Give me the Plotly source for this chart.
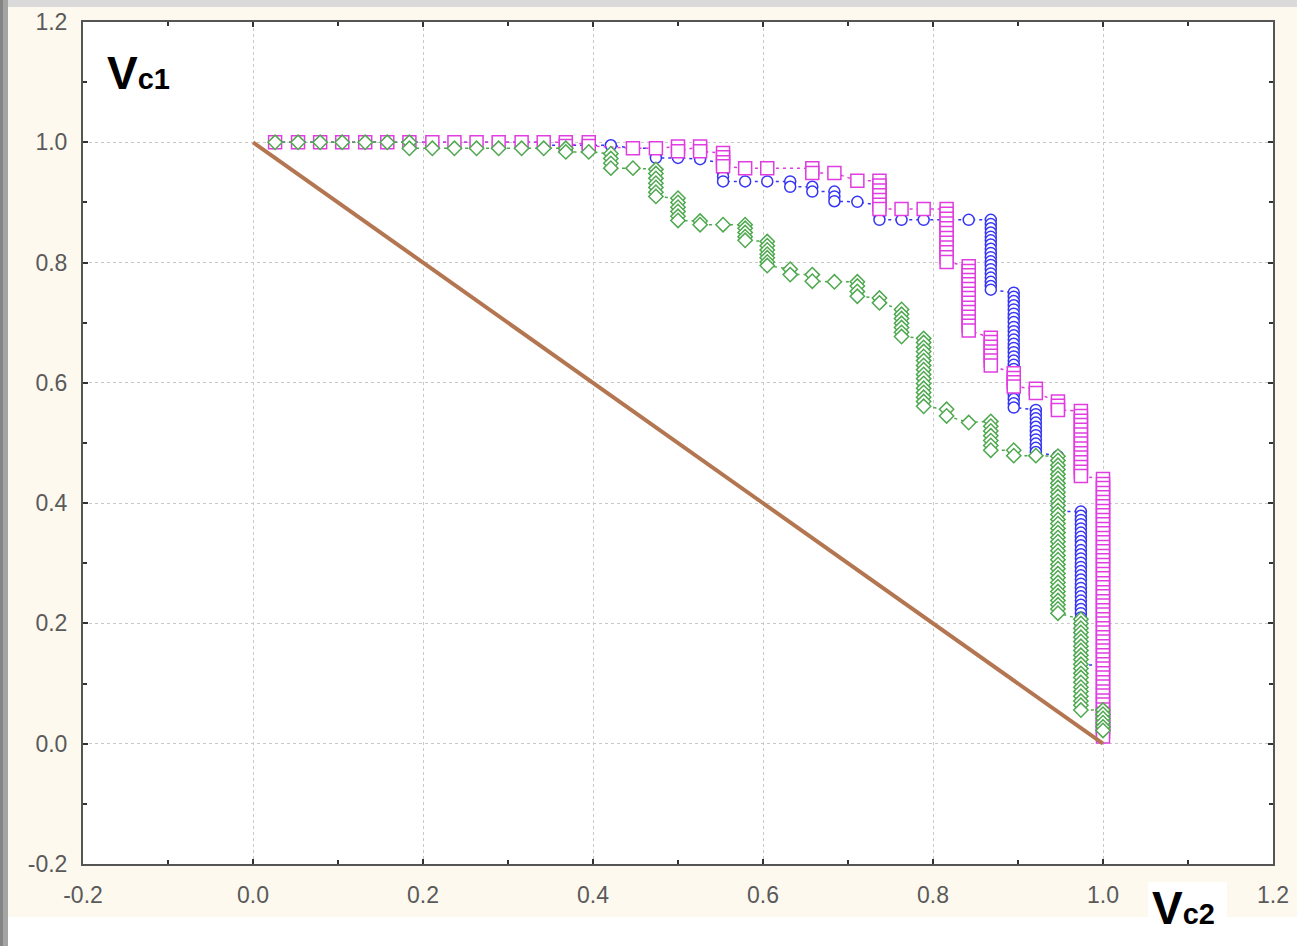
import plotly.graph_objects as go

# ---------------- data ----------------
# Each series: list of column x positions and, per column, the stacked y values
blue_col_x = [0.026, 0.053, 0.079, 0.105, 0.132, 0.158, 0.184, 0.211, 0.237, 0.263,
              0.289, 0.316, 0.342, 0.368, 0.395, 0.421, 0.447, 0.474, 0.5, 0.526,
              0.553, 0.579, 0.605, 0.632, 0.658, 0.684, 0.711, 0.737, 0.763, 0.789,
              0.816, 0.842, 0.868, 0.895, 0.921, 0.947, 0.974, 1.0]
blue_col_y = [
    [1.0], [1.0], [1.0], [1.0], [1.0], [1.0], [1.0], [1.0], [1.0], [1.0],
    [1.0], [1.0], [1.0, 0.995], [0.995], [0.995], [0.995], [0.99],
    [0.99, 0.982, 0.974], [0.974], [0.972],
    [0.965, 0.957, 0.95, 0.943, 0.935], [0.935], [0.935], [0.935, 0.926],
    [0.926, 0.918], [0.918, 0.91, 0.902], [0.901], [0.895, 0.887, 0.879, 0.871],
    [0.871], [0.871], [0.871], [0.871],
    [0.871, 0.864, 0.857, 0.85, 0.843, 0.837, 0.83, 0.823, 0.816, 0.809, 0.802,
     0.796, 0.789, 0.782, 0.775, 0.768, 0.761, 0.755],
    [0.75, 0.743, 0.736, 0.729, 0.722, 0.715, 0.708, 0.701, 0.693, 0.686, 0.679,
     0.672, 0.665, 0.658, 0.651, 0.644, 0.637, 0.63, 0.623, 0.616, 0.609, 0.602,
     0.595, 0.588, 0.58, 0.573, 0.566, 0.559],
    [0.555, 0.548, 0.541, 0.534, 0.527, 0.52, 0.513, 0.506, 0.499, 0.492, 0.485],
    [0.478, 0.471, 0.464, 0.457, 0.45, 0.443, 0.436, 0.429, 0.421, 0.414, 0.407,
     0.4, 0.393, 0.386],
    [0.386, 0.379, 0.372, 0.365, 0.358, 0.351, 0.344, 0.337, 0.33, 0.322, 0.315,
     0.308, 0.301, 0.294, 0.287, 0.28, 0.273, 0.266, 0.259, 0.252, 0.245, 0.238,
     0.231, 0.224, 0.217, 0.21, 0.203, 0.196, 0.188, 0.181, 0.174, 0.167, 0.16,
     0.153, 0.146, 0.139, 0.131],
    [0.131, 0.124, 0.117, 0.11, 0.102, 0.095, 0.088, 0.081, 0.073, 0.066, 0.059,
     0.051, 0.044, 0.037, 0.03, 0.022, 0.015],
]

pink_col_x = [0.026, 0.053, 0.079, 0.105, 0.132, 0.158, 0.184, 0.211, 0.237, 0.263,
              0.289, 0.316, 0.342, 0.368, 0.395, 0.447, 0.474, 0.5, 0.526, 0.553,
              0.579, 0.605, 0.658, 0.684, 0.711, 0.737, 0.763, 0.789, 0.816, 0.842,
              0.868, 0.895, 0.921, 0.947, 0.974, 1.0]
pink_col_y = [
    [1.0], [1.0], [1.0], [1.0], [1.0], [1.0], [1.0], [1.0], [1.0], [1.0],
    [1.0], [1.0], [1.0], [1.0, 0.994], [1.0, 0.994], [0.99], [0.99],
    [0.993, 0.985], [0.993, 0.985], [0.982, 0.975, 0.967, 0.96],
    [0.957], [0.957], [0.957, 0.949], [0.949], [0.936],
    [0.936, 0.928, 0.92, 0.912, 0.904, 0.896, 0.889], [0.889], [0.889],
    [0.889, 0.881, 0.873, 0.865, 0.857, 0.849, 0.841, 0.833, 0.825, 0.817, 0.809,
     0.801],
    [0.794, 0.786, 0.779, 0.771, 0.764, 0.756, 0.748, 0.741, 0.733, 0.725, 0.718,
     0.71, 0.702, 0.695, 0.687],
    [0.675, 0.668, 0.66, 0.652, 0.645, 0.637, 0.629],
    [0.616, 0.608, 0.601, 0.594],
    [0.59, 0.583],
    [0.569, 0.562, 0.555],
    [0.553, 0.545, 0.537, 0.53, 0.522, 0.514, 0.506, 0.499, 0.491, 0.483, 0.476,
     0.468, 0.46, 0.452, 0.445],
    [0.44, 0.432, 0.425, 0.417, 0.41, 0.402, 0.395, 0.387, 0.38, 0.372, 0.365,
     0.357, 0.35, 0.342, 0.335, 0.327, 0.32, 0.312, 0.305, 0.297, 0.29, 0.282,
     0.275, 0.267, 0.26, 0.252, 0.245, 0.237, 0.23, 0.222, 0.215, 0.207, 0.2,
     0.192, 0.185, 0.177, 0.17, 0.162, 0.155, 0.147, 0.14, 0.132, 0.125, 0.117,
     0.11, 0.102, 0.095, 0.087, 0.08, 0.072, 0.065, 0.057, 0.05, 0.042, 0.035,
     0.027, 0.02, 0.012],
]

green_col_x = [0.026, 0.053, 0.079, 0.105, 0.132, 0.158, 0.184, 0.211, 0.237, 0.263,
               0.289, 0.316, 0.342, 0.368, 0.395, 0.421, 0.447, 0.474, 0.5, 0.526,
               0.553, 0.579, 0.605, 0.632, 0.658, 0.684, 0.711, 0.737, 0.763, 0.789,
               0.816, 0.842, 0.868, 0.895, 0.921, 0.947, 0.974, 1.0]
green_col_y = [
    [1.0], [1.0], [1.0], [1.0], [1.0], [1.0], [1.0, 0.99], [0.99], [0.99], [0.99],
    [0.99], [0.99], [0.99], [0.99, 0.984], [0.984],
    [0.981, 0.973, 0.965, 0.957], [0.957],
    [0.955, 0.948, 0.94, 0.932, 0.925, 0.917, 0.91],
    [0.907, 0.9, 0.892, 0.885, 0.877, 0.87], [0.869, 0.863], [0.863],
    [0.863, 0.857, 0.85, 0.843, 0.837],
    [0.835, 0.828, 0.821, 0.814, 0.808, 0.801, 0.795],
    [0.789, 0.78], [0.78, 0.769], [0.768], [0.768, 0.761, 0.752, 0.744],
    [0.741, 0.733],
    [0.722, 0.714, 0.707, 0.699, 0.692, 0.684, 0.677],
    [0.674, 0.667, 0.659, 0.652, 0.644, 0.637, 0.629, 0.622, 0.614, 0.607, 0.599,
     0.591, 0.584, 0.576, 0.569, 0.561],
    [0.556, 0.545], [0.534],
    [0.536, 0.528, 0.52, 0.512, 0.504, 0.496, 0.488],
    [0.488, 0.479], [0.479],
    [0.478, 0.471, 0.463, 0.456, 0.448, 0.441, 0.433, 0.426, 0.418, 0.411, 0.403,
     0.396, 0.388, 0.381, 0.373, 0.366, 0.358, 0.351, 0.343, 0.336, 0.328, 0.321,
     0.313, 0.306, 0.298, 0.291, 0.283, 0.276, 0.268, 0.261, 0.253, 0.246, 0.238,
     0.231, 0.224, 0.217],
    [0.207, 0.2, 0.192, 0.185, 0.177, 0.17, 0.162, 0.155, 0.147, 0.14, 0.132,
     0.125, 0.117, 0.11, 0.102, 0.094, 0.087, 0.079, 0.071, 0.064, 0.056],
    [0.056, 0.049, 0.042, 0.035, 0.028, 0.022],
]

diag_x = [0.0, 1.0]
diag_y = [1.0, 0.0]

tick_vals = [-0.2, 0.0, 0.2, 0.4, 0.6, 0.8, 1.0, 1.2]
tick_text = ["-0.2", "0.0", "0.2", "0.4", "0.6", "0.8", "1.0", "1.2"]
minor_vals = [-0.1, 0.1, 0.3, 0.5, 0.7, 0.9, 1.1]

# ---------------- helpers ----------------
def flatten(col_x, col_y):
    xs, ys = [], []
    for x, ylist in zip(col_x, col_y):
        for y in ylist:
            xs.append(x)
            ys.append(y)
    return xs, ys

W, H = 1297, 946
L, R, T, B = 83, 24, 22, 82
PW, PH = W - L - R, H - T - B

def px_x(px):
    return (px - L) / PW

def px_y(py):
    return (H - B - py) / PH

fig = go.Figure()

series = [
    (blue_col_x, blue_col_y, "#3535F5", "circle", 11),
    (pink_col_x, pink_col_y, "#E03CE0", "square", 13),
    (green_col_x, green_col_y, "#4EA84E", "diamond", 11),
]
for cx, cy, col, sym, sz in series:
    xs, ys = flatten(cx, cy)
    fig.add_trace(go.Scatter(
        x=xs, y=ys, mode="lines+markers",
        line=dict(color=col, width=1.5, dash="3px,4px"),
        marker=dict(symbol=sym, size=sz, color="#FFFFFF", line=dict(color=col, width=1.5)),
        showlegend=False, hoverinfo="skip",
    ))

fig.add_trace(go.Scatter(
    x=diag_x, y=diag_y, mode="lines",
    line=dict(color="#B37650", width=4),
    showlegend=False, hoverinfo="skip",
))

axis_common = dict(
    range=[-0.2, 1.2], tickmode="array", tickvals=tick_vals, ticktext=tick_text,
    showgrid=True, gridcolor="#C9C9C9", griddash="dot", gridwidth=1,
    zeroline=False, showline=True, linecolor="#555555", linewidth=2,
    mirror="allticks", ticks="inside", ticklen=5, tickwidth=2, tickcolor="#333333",
    tickfont=dict(family="Liberation Sans, Arial, sans-serif", size=23, color="#5A5A5A"),
    minor=dict(tickmode="array", tickvals=minor_vals, ticks="inside", ticklen=4,
               tickwidth=2, tickcolor="#333333", showgrid=False),
    automargin=False, fixedrange=True,
)

fig.update_layout(
    width=W, height=H,
    margin=dict(l=L, r=R, t=T, b=B, pad=0, autoexpand=False),
    paper_bgcolor="#FDF9EF", plot_bgcolor="#FFFFFF",
    xaxis=dict(axis_common, ticklabelstandoff=9),
    yaxis=dict(axis_common, ticklabelstandoff=9),
)

shapes = [
    # top grey strip
    dict(type="rect", xref="paper", yref="paper", x0=px_x(0), x1=px_x(W), y0=px_y(7), y1=px_y(0),
         fillcolor="#DADADA", line=dict(width=0), layer="above"),
    # bottom white strip
    dict(type="rect", xref="paper", yref="paper", x0=px_x(0), x1=px_x(W), y0=px_y(W), y1=px_y(917),
         fillcolor="#FFFFFF", line=dict(width=0), layer="above"),
    # white box behind Vc2
    dict(type="rect", xref="paper", yref="paper", x0=px_x(1148), x1=px_x(1227), y0=px_y(946), y1=px_y(882),
         fillcolor="#FFFFFF", line=dict(width=0), layer="above"),
    # left grey strip
    dict(type="rect", xref="paper", yref="paper", x0=px_x(0), x1=px_x(8), y0=px_y(946), y1=px_y(0),
         fillcolor="#A4A4A4", line=dict(width=0), layer="above"),
    dict(type="rect", xref="paper", yref="paper", x0=px_x(0), x1=px_x(3), y0=px_y(946), y1=px_y(0),
         fillcolor="#858585", line=dict(width=0), layer="above"),
]
fig.update_layout(shapes=shapes)

lab_font = dict(family="Liberation Sans, Arial, sans-serif", size=46, color="#000000")
fig.add_annotation(xref="paper", yref="paper", x=px_x(105), y=px_y(73),
                   xanchor="left", yanchor="middle", showarrow=False,
                   text="<b>V</b><b><span style='font-size:29px'>c1</span></b>",
                   font=lab_font)
fig.add_annotation(xref="paper", yref="paper", x=px_x(1150), y=px_y(908),
                   xanchor="left", yanchor="middle", showarrow=False,
                   text="<b>V</b><b><span style='font-size:29px'>c2</span></b>",
                   font=lab_font)

fig.write_html("out.html")
